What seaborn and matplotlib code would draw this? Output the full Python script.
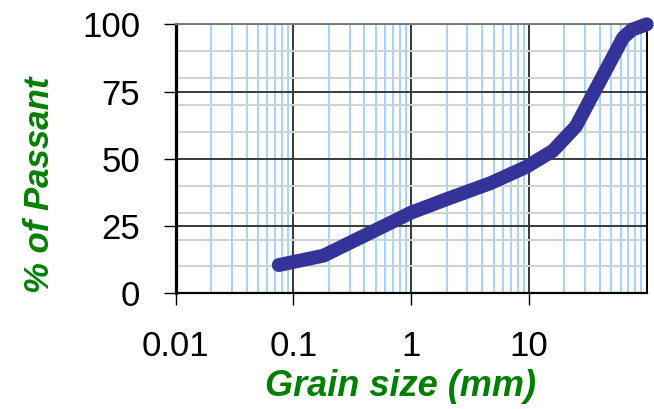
import matplotlib
matplotlib.use("Agg")
import matplotlib.pyplot as plt
from matplotlib.ticker import LogLocator, MultipleLocator, NullFormatter
import numpy as np
import pandas as pd
import seaborn as sns

# Grain-size distribution (sieve analysis)
grain_size_mm = [0.075, 0.18, 0.425, 1.0, 2.0, 4.75, 9.5, 16.0, 25.0, 63.0, 75.0, 100.0]
percent_passing = [10.5, 14, 22, 30, 35, 41, 47, 53, 62, 95, 98, 100]

x_ticks = [0.01, 0.1, 1, 10]
x_tick_labels = ["0.01", "0.1", "1", "10"]
y_ticks = [0, 25, 50, 75, 100]

sns.set_style("white")
plt.rcParams["font.family"] = ["Liberation Sans", "DejaVu Sans"]
plt.rcParams["text.color"] = "black"
plt.rcParams["xtick.color"] = "black"
plt.rcParams["ytick.color"] = "black"

df = pd.DataFrame({"size": grain_size_mm, "passing": percent_passing})

fig = plt.figure(figsize=(6.54, 4.09), dpi=100)
ax = fig.add_axes([175.7 / 654, 1 - 293.3 / 409, (646.7 - 175.7) / 654, (293.3 - 24.3) / 409])

sns.lineplot(data=df, x="size", y="passing", ax=ax, color="#333399", linewidth=10,
             solid_capstyle="round", solid_joinstyle="round", clip_on=False, zorder=5)

ax.set_xscale("log")
ax.set_xlim(0.01, 100)
ax.set_ylim(0, 100)

ax.set_xticks(x_ticks)
ax.set_xticklabels(x_tick_labels)
ax.xaxis.set_minor_locator(LogLocator(base=10, subs=np.arange(2, 10)))
ax.xaxis.set_minor_formatter(NullFormatter())
ax.set_yticks(y_ticks)
ax.yaxis.set_minor_locator(MultipleLocator(10))

ax.set_axisbelow(True)
ax.grid(which="minor", axis="y", color="#d0d0d0", linewidth=1.4, zorder=0)
ax.grid(which="minor", axis="x", color="#8cc6ff", linewidth=1.1, zorder=1)
ax.grid(which="major", axis="y", color="#3a3a3a", linewidth=1.4, zorder=2)
ax.grid(which="major", axis="x", color="black", linewidth=1.1, zorder=2)

ax.tick_params(axis="both", which="major", labelsize=25, direction="out",
               length=8.5, width=1.0, color="black", labelcolor="black")
ax.tick_params(axis="y", which="major", pad=17)
ax.tick_params(axis="x", which="major", pad=18)
ax.tick_params(axis="both", which="minor", length=0)
ax.tick_params(axis="y", left=True)
ax.tick_params(axis="x", bottom=True)

for side, lw, col in [("left", 2.3, "black"), ("bottom", 1.6, "black"),
                      ("right", 1.4, "black"), ("top", 1.4, "#7a7a7a")]:
    ax.spines[side].set_visible(True)
    ax.spines[side].set_linewidth(lw)
    ax.spines[side].set_color(col)

ax.set_xlabel("")
ax.set_ylabel("")

fig.text(400.8 / 654, 1 - 386 / 409, "Grain size (mm)", color="#008000",
         fontsize=26, fontweight="bold", fontstyle="italic", ha="center", va="center")
fig.text(40 / 654, 1 - 185 / 409, "% of Passant", color="#008000", rotation=90,
         fontsize=25, fontweight="bold", fontstyle="italic", ha="center", va="center")

fig.savefig("out.png", dpi=100)
